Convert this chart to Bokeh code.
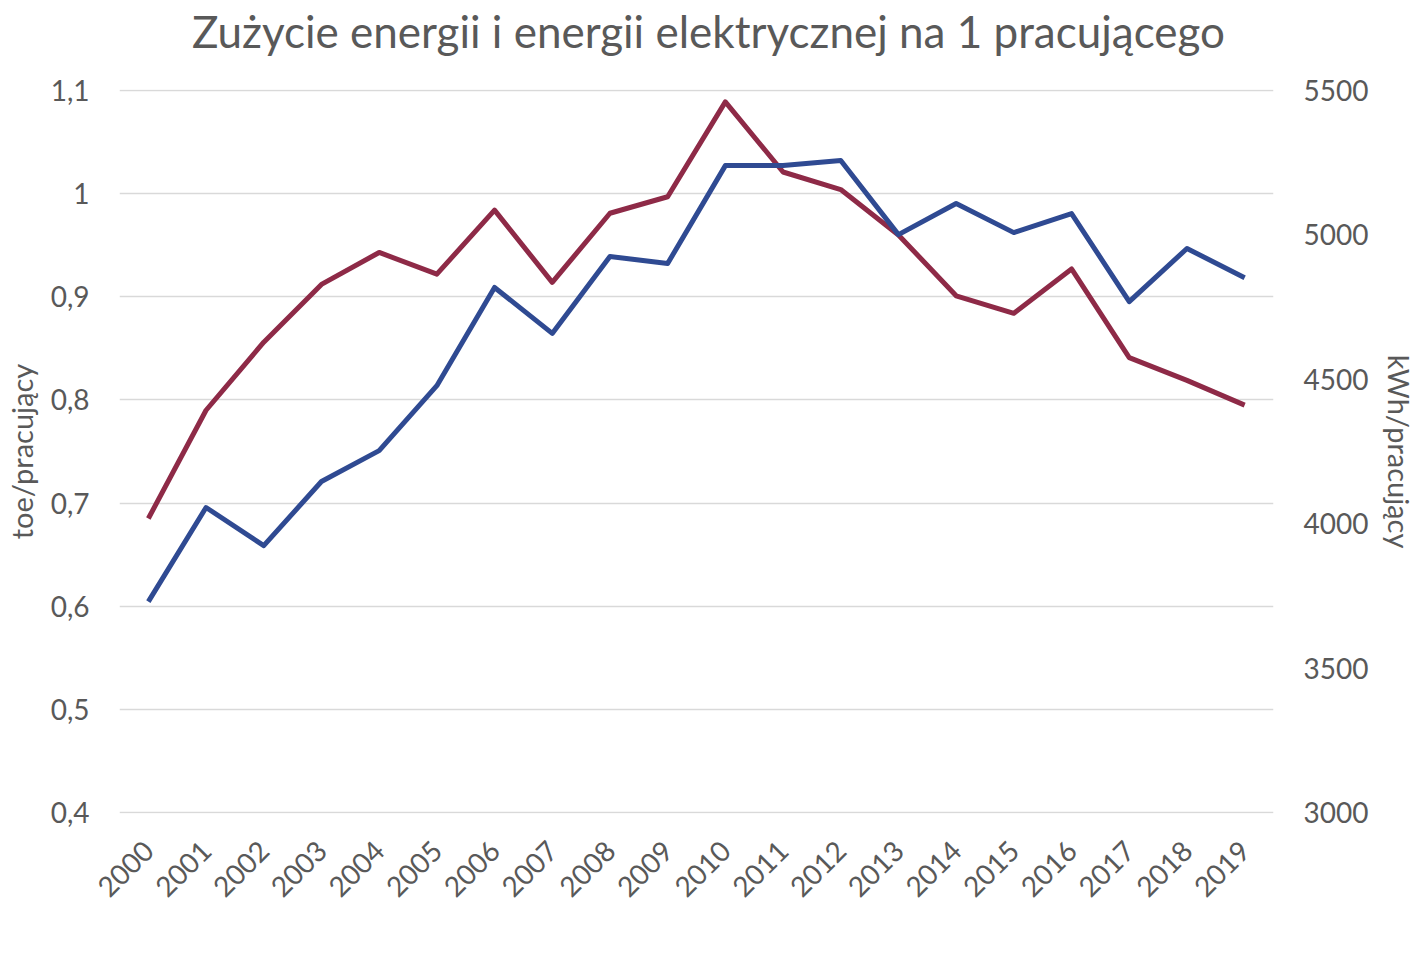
import math
from bokeh.plotting import figure
from bokeh.models import Range1d, LinearAxis, FixedTicker, Legend, LegendItem, ColumnDataSource
from bokeh.embed import file_html
from bokeh.resources import INLINE

years = [str(y) for y in range(2000, 2020)]
energy_toe = [0.685, 0.790, 0.856, 0.912, 0.943, 0.922, 0.984, 0.914, 0.981, 0.997,
              1.089, 1.021, 1.004, 0.960, 0.901, 0.884, 0.927, 0.841, 0.819, 0.795]
electric_kwh = [3730, 4056, 3924, 4146, 4253, 4478, 4818, 4659, 4925, 4901,
                5240, 5240, 5258, 5001, 5109, 5008, 5074, 4769, 4953, 4852]
left_ticks = [0.4, 0.5, 0.6, 0.7, 0.8, 0.9, 1.0, 1.1]
left_labels = ["0,4", "0,5", "0,6", "0,7", "0,8", "0,9", "1", "1,1"]
right_ticks = [3000, 3500, 4000, 4500, 5000, 5500]

title_text = "Zużycie energii i energii elektrycznej na 1 pracującego"
name_energy = "Zużycie energii na 1 pracującego"
name_electric = "Zużycie energii elektrycznej na 1 pracujacego"

FONT = "Lato"
GREY = "#595959"
RED = "#8E2A47"
BLUE = "#2F4A92"

idx = list(range(len(years)))
src = ColumnDataSource(dict(i=idx, year=years, toe=energy_toe, kwh=electric_kwh))

# tiny padding so that the grid lines at the range ends stay visible
pad = 0.001
kpad = pad * 2500 / 0.7
p = figure(x_range=Range1d(-0.5, len(years) - 0.5), y_range=Range1d(0.4 - pad, 1.1 + pad),
           frame_width=1154, frame_height=724,
           min_border_left=111, min_border_right=139, min_border_top=89, min_border_bottom=140,
           output_backend="svg", toolbar_location=None)
p.extra_y_ranges = {"kwh": Range1d(3000 - kpad, 5500 + kpad)}
p.extra_x_ranges = {"title": Range1d(0, 1)}

p.outline_line_color = None
p.xgrid.grid_line_color = None
p.ygrid.grid_line_color = "#D9D9D9"
p.ygrid.grid_line_width = 1.5

xax = p.xaxis[0]
xax.ticker = FixedTicker(ticks=idx)
xax.major_label_overrides = {i: y for i, y in zip(idx, years)}

ax = p.yaxis[0]
ax.ticker = FixedTicker(ticks=left_ticks)
ax.major_label_overrides = {t: l for t, l in zip(left_ticks, left_labels)}
ax.axis_label = "toe/pracujący"

rax = LinearAxis(y_range_name="kwh", ticker=FixedTicker(ticks=right_ticks), axis_label="kWh/pracujący")
p.add_layout(rax, "right")

# chart title, drawn as the single label of a bare axis above the frame
title_pos = 0.5104
tax = LinearAxis(x_range_name="title", ticker=FixedTicker(ticks=[title_pos]),
                 major_label_overrides={title_pos: title_text})
p.add_layout(tax, "above")

for a in [ax, rax, xax, tax]:
    a.axis_line_color = None
    a.major_tick_line_color = None
    a.minor_tick_line_color = None
    a.major_tick_out = 0
    a.major_tick_in = 0
    a.major_label_text_font = FONT
    a.major_label_text_font_size = "28px"
    a.major_label_text_color = GREY
    a.axis_label_text_font = FONT
    a.axis_label_text_font_size = "29px"
    a.axis_label_text_font_style = "normal"
    a.axis_label_text_color = GREY

tax.major_label_text_font_size = "44px"
tax.major_label_standoff = 33

ax.major_label_standoff = 30
ax.axis_label_standoff = 9
rax.major_label_standoff = 30
rax.axis_label_standoff = 11
xax.major_label_orientation = math.pi / 4
xax.major_label_standoff = 32

r1 = p.line("i", "toe", source=src, line_color=RED, line_width=5, line_join="round")
r2 = p.line("i", "kwh", source=src, y_range_name="kwh", line_color=BLUE, line_width=5, line_join="round")

legend = Legend(items=[LegendItem(label=name_energy, renderers=[r1]),
                       LegendItem(label=name_electric, renderers=[r2])],
                orientation="horizontal", location=(-3, 0),
                label_text_font=FONT, label_text_font_size="28px", label_text_color=GREY,
                glyph_width=57, glyph_height=20, label_standoff=3, spacing=68,
                padding=0, margin=0, border_line_color=None, background_fill_alpha=0)
p.add_layout(legend, "below")

open("out.html", "w").write(file_html(p, INLINE))
